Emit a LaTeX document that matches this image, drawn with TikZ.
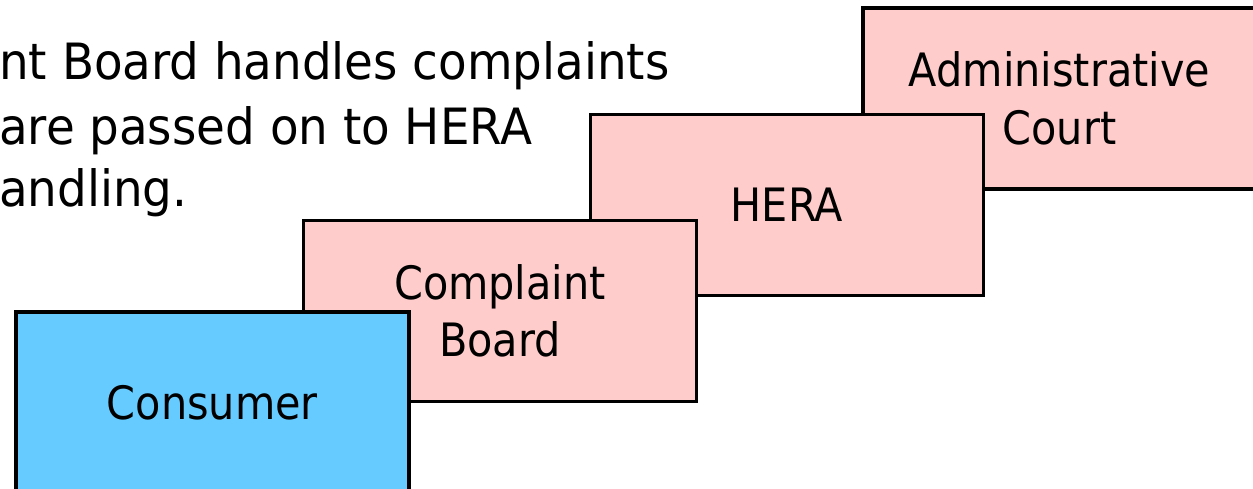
\documentclass[tikz,border=0pt]{standalone}
\usepackage{fontspec}
\setmainfont{DejaVu Sans Condensed}
\definecolor{pinkbox}{HTML}{FFCCCC}
\definecolor{bluebox}{HTML}{66CCFF}
\begin{document}
\begin{tikzpicture}[x=1pt,y=-1pt,
  card/.style={draw=black, line width=3.4pt, rectangle, minimum width=393pt, minimum height=181pt,
    align=center, inner sep=0pt, font={\fontsize{46}{57.5}\selectfont}},
  prose/.style={anchor=base west, inner sep=0pt, font={\fontsize{50}{60}\selectfont}, xscale=1.04}]
\useasboundingbox (0,0) rectangle (1253,489);
\node[prose] (t1) at (-1,80) {nt Board handles complaints};
\node[prose] (t2) at (-1,145) {are passed on to HERA};
\node[prose] (t3) at (-1,207) {andling.};
\node[card, fill=pinkbox] (court) at (1059.5,98.5) {Administrative\\Court};
\node[card, fill=pinkbox] (hera) at (787,205) {HERA};
\node[card, fill=pinkbox] (board) at (500,311) {Complaint\\Board};
\node[card, fill=bluebox] (consumer) at (212.5,402.5) {Consumer};
\end{tikzpicture}
\end{document}
